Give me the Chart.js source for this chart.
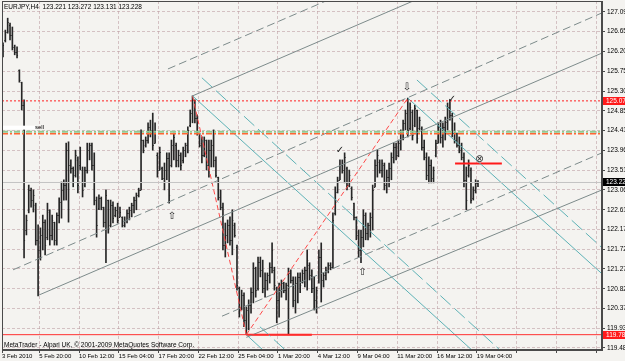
<!DOCTYPE html>
<html>
<head>
<meta charset="utf-8">
<title>EURJPY,H4</title>
<script src="https://cdn.jsdelivr.net/npm/chart.js@4.4.1/dist/chart.umd.min.js"></script>
<style>
    html, body { margin: 0; padding: 0; background: #f3f2ef; }
    #chartBox { width: 625px; height: 361px; }
</style>
</head>
<body>
<div id="chartBox"><canvas id="eurjpyChart" width="625" height="361"></canvas></div>
<script>
// EURJPY H4 bars, 3 Feb - 19 Mar 2010 (bar number on x)
const opens = [
    126.12, 126.46, 126.64, 126.80, 126.57, 126.30, 126.18, 125.78, 125.50, 124.98,
    122.15, 122.61, 123.06, 122.83, 122.72, 121.93, 121.70, 122.04, 122.33, 121.99,
    122.56, 122.04, 122.33, 121.93, 122.49, 122.79, 123.06, 123.17, 123.96, 123.63,
    123.56, 123.40, 123.74, 123.63, 123.51, 123.17, 123.51, 123.96, 124.08, 123.63,
    122.83, 122.65, 122.88, 122.67, 122.33, 122.83, 122.27, 122.72, 122.49, 122.61,
    122.45, 122.45, 122.27, 122.38, 122.54, 122.61, 122.72, 122.83, 122.95, 123.06,
    124.19, 124.08, 124.19, 124.49, 124.42, 124.12, 123.85, 123.51, 123.56, 123.33,
    123.51, 123.78, 123.63, 124.08, 124.08, 123.74, 123.85, 123.74, 123.96, 124.08,
    124.53, 124.80, 125.10, 124.69, 124.35, 124.12, 123.85, 124.19, 123.63, 123.96,
    124.08, 123.74, 123.35, 122.90, 122.67, 121.81, 122.04, 122.27, 121.93, 122.27,
    121.77, 120.84, 120.41, 120.68, 120.11, 120.34, 120.45, 120.75, 121.29, 120.84,
    121.43, 121.25, 120.84, 121.02, 121.13, 121.31, 121.25, 120.84, 120.57, 120.79,
    120.95, 120.79, 120.91, 121.18, 121.02, 120.57, 120.95, 121.09, 120.97, 121.18,
    121.25, 121.36, 121.13, 120.84, 120.57, 121.02, 121.54, 121.02, 121.13, 121.25,
    121.36, 121.31, 122.54, 123.01, 123.29, 123.63, 123.51, 123.56, 123.17, 123.10,
    122.76, 122.45, 122.04, 121.70, 121.99, 122.49, 122.08, 122.27, 122.45, 123.13,
    123.63, 123.69, 123.51, 123.63, 123.17, 123.35, 123.56, 123.81, 124.03, 123.85,
    124.12, 124.35, 124.58, 124.80, 124.46, 124.83, 124.53, 124.87, 124.46, 124.46,
    124.03, 123.81, 123.40, 123.63, 123.33, 123.85, 124.12, 124.49, 124.26, 124.49,
    124.60, 124.94, 124.76, 124.35, 124.19, 124.08, 123.96, 123.81, 123.29, 123.40,
    123.51, 122.88, 123.06, 123.221
];
const highs = [
    126.39, 126.68, 126.95, 126.84, 126.75, 126.34, 126.30, 125.78, 125.50, 125.10,
    122.49, 123.17, 123.10, 123.06, 122.76, 122.27, 122.20, 122.49, 122.38, 122.76,
    122.61, 122.49, 122.33, 122.54, 122.88, 123.24, 123.29, 124.12, 124.15, 123.74,
    123.58, 123.96, 123.81, 124.03, 123.58, 123.58, 124.12, 124.12, 124.12, 123.90,
    122.90, 122.95, 122.90, 122.67, 123.06, 122.83, 122.83, 122.79, 122.67, 122.76,
    122.67, 122.45, 122.45, 122.61, 122.67, 122.76, 122.90, 122.99, 123.10, 124.42,
    124.19, 124.26, 124.58, 124.64, 124.80, 124.58, 123.90, 124.03, 123.58, 123.67,
    123.90, 123.90, 124.19, 124.35, 124.12, 123.96, 123.90, 124.03, 124.12, 124.49,
    124.87, 125.19, 125.10, 124.76, 124.35, 124.26, 124.26, 124.19, 124.19, 124.19,
    124.42, 123.81, 123.35, 123.06, 122.76, 122.31, 122.38, 122.45, 122.61, 122.31,
    121.81, 120.86, 120.79, 120.73, 120.41, 120.57, 120.84, 121.41, 121.31, 121.54,
    121.54, 121.47, 121.18, 121.18, 121.41, 121.86, 121.31, 120.86, 120.95, 121.02,
    120.97, 120.95, 121.29, 121.25, 121.09, 121.09, 121.18, 121.18, 121.25, 121.31,
    121.70, 121.41, 121.25, 121.09, 120.86, 121.70, 121.86, 121.18, 121.31, 121.41,
    121.41, 122.54, 123.13, 123.35, 123.74, 123.74, 123.90, 123.58, 123.51, 123.13,
    122.76, 122.45, 122.15, 122.15, 122.61, 122.54, 122.31, 122.54, 123.17, 123.74,
    123.96, 123.74, 123.74, 123.67, 123.51, 123.67, 123.90, 124.12, 124.12, 124.19,
    124.42, 124.64, 124.87, 125.14, 125.03, 124.87, 124.98, 124.87, 124.71, 124.49,
    124.19, 123.90, 123.81, 123.74, 123.58, 124.19, 124.58, 124.64, 124.58, 124.71,
    125.03, 125.10, 124.80, 124.58, 124.35, 124.26, 124.12, 123.90, 123.58, 123.74,
    123.56, 123.13, 123.29, 123.272
];
const lows = [
    126.07, 126.41, 126.61, 126.46, 126.23, 126.12, 126.05, 125.50, 124.87, 121.52,
    122.04, 122.54, 122.67, 122.56, 121.81, 120.66, 121.47, 121.70, 121.59, 121.93,
    121.81, 121.93, 121.81, 121.81, 122.31, 122.42, 122.83, 122.83, 122.33, 123.44,
    123.13, 123.35, 122.99, 123.51, 122.90, 123.13, 123.44, 123.74, 123.51, 122.72,
    121.99, 122.61, 122.61, 122.22, 121.41, 122.08, 122.22, 122.31, 122.45, 122.31,
    122.45, 122.22, 122.22, 122.31, 122.38, 122.45, 122.54, 122.61, 122.90, 123.06,
    123.90, 124.03, 124.12, 124.26, 123.96, 124.12, 123.35, 123.51, 123.29, 123.06,
    123.29, 122.76, 123.58, 123.74, 123.58, 123.58, 123.51, 123.67, 123.81, 123.90,
    124.49, 124.58, 124.58, 124.30, 124.03, 123.67, 123.81, 123.51, 123.35, 123.58,
    123.58, 123.35, 122.83, 122.61, 121.70, 121.54, 121.86, 121.81, 121.59, 121.99,
    120.79, 120.18, 120.34, 119.96, 119.78, 119.89, 120.27, 120.50, 120.63, 120.79,
    121.09, 120.73, 120.63, 120.79, 120.95, 121.18, 120.79, 120.05, 120.18, 120.63,
    120.73, 120.57, 119.80, 120.95, 120.41, 120.27, 120.50, 120.73, 120.95, 120.86,
    120.79, 121.02, 120.73, 120.34, 120.27, 120.95, 120.52, 120.86, 121.02, 121.18,
    121.25, 121.29, 122.49, 122.99, 123.29, 123.44, 123.22, 123.06, 123.13, 122.83,
    122.38, 121.93, 121.54, 121.41, 121.77, 121.93, 121.93, 121.99, 122.15, 123.13,
    123.35, 123.44, 123.35, 123.06, 122.99, 123.13, 123.29, 123.67, 123.74, 123.81,
    123.96, 124.19, 124.42, 124.26, 124.42, 124.19, 124.49, 124.12, 124.42, 123.96,
    123.74, 123.29, 123.22, 123.22, 123.22, 123.81, 124.12, 124.12, 124.03, 124.19,
    124.42, 124.64, 124.26, 124.12, 124.03, 123.90, 123.74, 123.13, 122.61, 123.35,
    122.76, 122.83, 122.99, 123.131
];
const closes = [
    126.34, 126.64, 126.86, 126.57, 126.30, 126.18, 126.12, 125.55, 124.98, 121.93,
    122.38, 123.06, 122.83, 122.95, 121.93, 121.70, 122.04, 122.33, 121.81, 122.61,
    122.04, 122.38, 121.93, 122.49, 122.79, 123.06, 123.17, 123.96, 123.63, 123.56,
    123.24, 123.85, 123.17, 123.96, 123.06, 123.51, 123.96, 124.08, 123.63, 122.83,
    122.27, 122.88, 122.67, 122.33, 122.95, 122.20, 122.72, 122.42, 122.61, 122.38,
    122.56, 122.27, 122.38, 122.54, 122.61, 122.72, 122.83, 122.95, 123.06, 124.19,
    123.96, 124.19, 124.49, 124.42, 124.08, 124.42, 123.51, 123.92, 123.33, 123.51,
    123.78, 122.95, 124.08, 124.26, 123.74, 123.85, 123.63, 123.96, 124.08, 124.42,
    124.80, 125.10, 124.69, 124.37, 124.08, 123.85, 124.19, 123.63, 123.96, 124.08,
    123.74, 123.40, 122.90, 122.67, 121.81, 122.04, 122.27, 121.93, 122.38, 122.04,
    120.91, 120.34, 120.68, 120.11, 120.34, 120.45, 120.75, 121.29, 120.79, 121.43,
    121.25, 120.84, 121.02, 121.13, 121.31, 121.70, 120.91, 120.57, 120.79, 120.95,
    120.79, 120.91, 121.18, 121.02, 120.57, 120.95, 121.09, 120.91, 121.18, 121.25,
    121.47, 121.13, 120.84, 120.57, 120.79, 121.54, 121.02, 121.13, 121.25, 121.36,
    121.31, 122.38, 123.01, 123.29, 123.63, 123.51, 123.81, 123.17, 123.40, 122.90,
    122.45, 122.04, 121.70, 121.99, 122.49, 122.08, 122.27, 122.45, 123.06, 123.63,
    123.85, 123.51, 123.67, 123.17, 123.35, 123.56, 123.81, 124.03, 123.85, 124.12,
    124.35, 124.58, 124.80, 124.42, 124.94, 124.30, 124.92, 124.24, 124.64, 124.03,
    123.81, 123.40, 123.63, 123.33, 123.51, 124.12, 124.49, 124.26, 124.49, 124.60,
    124.94, 124.76, 124.35, 124.19, 124.08, 123.96, 123.81, 123.29, 122.83, 123.63,
    122.83, 123.06, 123.22, 123.228
];

// time axis: bar numbers where MetaTrader put a date label
const timeTicks = [-0.43, 15.5, 32.5, 49.5, 66.5, 83.5, 100.5, 117.5, 134.5, 151.5, 168.5, 185.5, 202.5, 219.5, 236.5, 253.5];
const timeLabels = ['3 Feb 2010', '5 Feb 20:00', '10 Feb 12:00', '15 Feb 04:00', '17 Feb 20:00', '22 Feb 12:00',
    '25 Feb 04:00', '1 Mar 20:00', '4 Mar 12:00', '9 Mar 04:00', '11 Mar 20:00', '16 Mar 12:00', '19 Mar 04:00', '', '', ''];
const priceTicks = [127.09, 126.65, 126.20, 125.75, 125.30, 124.85, 124.41, 123.96, 123.51, 123.06,
    122.61, 122.17, 121.72, 121.27, 120.82, 120.37, 119.93, 119.48];

// drawn objects, each [bar, price, bar, price]
const greySolid = [[81, 125.19, 256, 129.18], [15.4, 120.68, 256, 126.16], [104, 119.72, 256, 123.06]];
const greyDashed = [[70.5, 125.80, 256, 130.03], [4.3, 121.25, 256, 127.07], [93.6, 120.20, 256, 123.90]];
const cyanSolid = [[81, 125.19, 205, 119.21], [104, 119.78, 112, 119.39], [173, 125.14, 256, 121.16]];
const cyanDashed = [[85, 125.60, 217, 119.21], [109.8, 119.96, 122, 119.37], [176.9, 125.55, 256, 121.75]];
const redDashed = [[81, 125.19, 104, 119.78], [104, 119.78, 173, 125.14]];
const redThick = [[104, 119.78, 132, 119.78], [193.2, 123.66, 213.2, 123.66]];

// horizontal levels
const levelRedDotted = 125.077;
const levelGreen = 124.38;
const levelOrange = 124.33;
const levelLow = 119.781;
const bidPrice = 123.228;
const priceTags = [125.077, 123.228, 119.781];

// arrow / check symbols: [glyph, bar, price]
const symbols = [['\u21E7', 72.2, 122.47], ['\u21E9', 172.6, 125.38], ['\u2713', 144.0, 123.95],
    ['\u2713', 191.9, 125.12], ['\u21E7', 153.6, 121.20], ['\u2297', 203.6, 123.76]];
const sellLabel = ['sell', 15.6, 124.47];

const headerText = 'EURJPY,H4  123.221 123.272 123.131 123.228';
const footerText = 'MetaTrader - Alpari UK, \u00A9 2001-2009 MetaQuotes Software Corp.';

const X_MIN = -0.43, X_MAX = 256;
const Y_MIN = 119.434, Y_MAX = 127.339;
const BG_COLOR = '#f4f3f0';
const BAR_COLOR = '#262626';
const GRID_COLOR = 'rgba(190, 160, 165, 0.6)';
const AXIS_COLOR = '#4a4a4a';
const FONT = 'Liberation Sans';

// Two-point line datasets
function segmentDatasets(segments, color, width, dash) {
    return segments.map(s => ({
        type: 'line',
        data: [{ x: s[0], y: s[1] }, { x: s[2], y: s[3] }],
        borderColor: color,
        borderWidth: width,
        borderDash: dash,
        pointRadius: 0,
        fill: false,
        tension: 0,
        order: 1
    }));
}

function levelDataset(value, color, width, dash) {
    return segmentDatasets([[X_MIN, value, X_MAX, value]], color, width, dash)[0];
}

const barDataset = {
    type: 'bar',
    data: highs.map((h, i) => ({ x: i, y: [lows[i], h] })),
    backgroundColor: BAR_COLOR,
    barThickness: 1,
    grouped: false,
    order: 10
};

// open / close ticks drawn right after the bars
const ohlcTicks = {
    id: 'ohlcTicks',
    afterDatasetDraw(chart, args) {
        if (args.index !== 0) return;
        const { ctx, chartArea } = chart;
        const x = chart.scales.x, y = chart.scales.y;
        ctx.save();
        ctx.beginPath();
        ctx.rect(chartArea.left, chartArea.top, chartArea.width, chartArea.height);
        ctx.clip();
        ctx.strokeStyle = BAR_COLOR;
        ctx.lineWidth = 1;
        ctx.beginPath();
        opens.forEach((o, i) => {
            const px = x.getPixelForValue(i);
            const yo = Math.round(y.getPixelForValue(o)) + 0.5;
            const yc = Math.round(y.getPixelForValue(closes[i])) + 0.5;
            ctx.moveTo(px - 1, yo);
            ctx.lineTo(px, yo);
            ctx.moveTo(px, yc);
            ctx.lineTo(px + 1, yc);
        });
        ctx.stroke();
        ctx.restore();
    }
};

const background = {
    id: 'background',
    beforeDraw(chart) {
        const ctx = chart.ctx;
        ctx.save();
        ctx.fillStyle = BG_COLOR;
        ctx.fillRect(0, 0, chart.width, chart.height);
        ctx.restore();
    }
};

// frame, texts, price tags and symbols
const decorations = {
    id: 'decorations',
    afterDraw(chart) {
        const { ctx, chartArea } = chart;
        const x = chart.scales.x, y = chart.scales.y;
        ctx.save();

        // sell label with its white strip
        ctx.fillStyle = '#ffffff';
        const sy = y.getPixelForValue(sellLabel[2]);
        ctx.fillRect(chartArea.left, sy - 2, x.getPixelForValue(14.1) - chartArea.left, 4);
        ctx.fillStyle = '#000';
        ctx.font = '6px ' + FONT;
        ctx.textBaseline = 'middle';
        ctx.textAlign = 'center';
        ctx.fillText(sellLabel[0], x.getPixelForValue(sellLabel[1]), sy);

        // symbols
        ctx.font = '10px "DejaVu Sans"';
        symbols.forEach(s => {
            ctx.fillStyle = s[0] === '\u2297' ? '#333' : '#222';
            ctx.fillText(s[0], x.getPixelForValue(s[1]), y.getPixelForValue(s[2]));
        });

        // frame
        ctx.strokeStyle = AXIS_COLOR;
        ctx.lineWidth = 1;
        ctx.strokeRect(chartArea.left + 0.5, chartArea.top + 0.5, chartArea.width - 1, chartArea.height - 1);

        // header and footer
        ctx.textAlign = 'left';
        ctx.fillStyle = '#000';
        ctx.font = '6.5px ' + FONT;
        ctx.fillText(headerText, chartArea.left + 2, chartArea.top + 6);
        ctx.fillText(footerText, chartArea.left + 2, chartArea.bottom - 5);

        // price tags on the axis
        priceTags.forEach((v, i) => {
            const py = Math.round(y.getPixelForValue(v));
            ctx.fillStyle = i === 1 ? '#000' : '#ff1a1a';
            ctx.fillRect(chartArea.right + 1, py - 4, 23, 8);
            ctx.fillStyle = '#fff';
            ctx.fillText(v.toFixed(3), chartArea.right + 4, py);
        });
        ctx.restore();
    }
};

const datasets = [
    barDataset,
    levelDataset(bidPrice, '#c4c4c4', 1, []),
    levelDataset(levelGreen, '#92c992', 2, [6, 2, 2, 2]),
    levelDataset(levelOrange, '#ff6633', 1.5, [6, 2, 2, 2]),
    levelDataset(levelRedDotted, '#ff2020', 1, [2, 2]),
    levelDataset(levelLow, '#ff3030', 1, []),
    ...segmentDatasets(greySolid, '#7d8b8b', 1, []),
    ...segmentDatasets(greyDashed, '#7d8b8b', 1, [8, 4]),
    ...segmentDatasets(cyanSolid, '#5eb2b6', 1, []),
    ...segmentDatasets(cyanDashed, '#5eb2b6', 1, [14, 5]),
    ...segmentDatasets(redDashed, '#ff4a4a', 1, [5, 3]),
    ...segmentDatasets(redThick, '#ff1a1a', 2, [])
];

const chart = new Chart(document.getElementById('eurjpyChart'), {
    type: 'bar',
    data: { datasets: datasets },
    options: {
        responsive: false,
        animation: false,
        events: [],
        layout: { padding: { left: 2, top: 1, right: 0, bottom: 0 } },
        plugins: {
            legend: { display: false },
            tooltip: { enabled: false }
        },
        scales: {
            x: {
                type: 'linear',
                position: 'bottom',
                min: X_MIN,
                max: X_MAX,
                offset: false,
                afterBuildTicks: scale => { scale.ticks = timeTicks.map(v => ({ value: v })); },
                afterFit: scale => { scale.height = 11; scale.paddingLeft = 0; scale.paddingRight = 0; },
                ticks: {
                    autoSkip: false,
                    maxRotation: 0,
                    align: 'start',
                    padding: 0,
                    color: '#000',
                    font: { family: FONT, size: 6 },
                    callback: (v, i) => timeLabels[i]
                },
                grid: { offset: false, color: GRID_COLOR, tickLength: 3, tickColor: AXIS_COLOR },
                border: { display: true, color: AXIS_COLOR, dash: [3, 2] }
            },
            y: {
                type: 'linear',
                position: 'right',
                min: Y_MIN,
                max: Y_MAX,
                afterBuildTicks: scale => { scale.ticks = priceTicks.map(v => ({ value: v })); },
                afterFit: scale => { scale.width = 23; scale.paddingTop = 0; scale.paddingBottom = 0; },
                ticks: {
                    autoSkip: false,
                    padding: 2,
                    color: '#000',
                    font: { family: FONT, size: 6.5 },
                    callback: v => v.toFixed(3)
                },
                grid: { color: GRID_COLOR, tickLength: 3, tickColor: AXIS_COLOR },
                border: { display: true, color: AXIS_COLOR, dash: [3, 2] }
            }
        }
    },
    plugins: [background, ohlcTicks, decorations]
});
</script>
</body>
</html>
